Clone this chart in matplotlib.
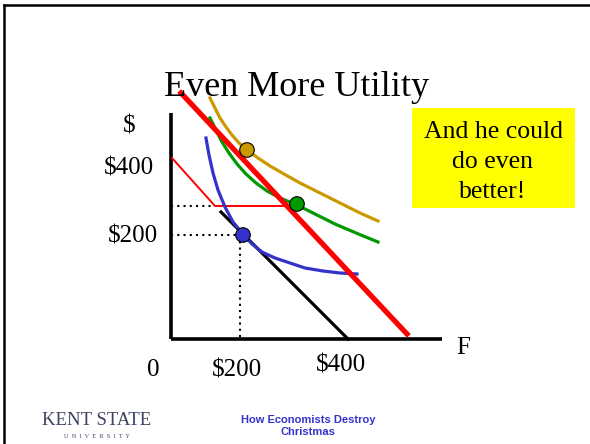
import matplotlib
matplotlib.use("Agg")
import matplotlib.pyplot as plt
from matplotlib.patches import Rectangle

# chart units: origin at the axis corner, x = F, y = $
budget_old = ([50, 177], [127, 0])            # black budget line
budget_new = ([10, 236], [246, 5])            # thick red budget line
kinked = ([1, 44, 125], [181, 133, 133])      # thin red kinked line

curve_blue_x = [35, 38, 42, 47, 54, 62, 72, 81, 91, 104, 119, 134, 152, 169, 186]
curve_blue_y = [201, 184, 166, 149, 132, 117, 105, 95, 87, 81, 76, 71, 68, 66, 65]
curve_green_x = [39, 45, 51, 58, 66, 75, 85, 96, 109, 126, 144, 164, 185, 207]
curve_green_y = [221, 209, 197, 186, 175, 165, 156, 148, 141, 134, 125, 115, 106, 97]
curve_gold_x = [39, 44, 49, 55, 61, 68, 76, 87, 99, 113, 129, 149, 169, 189, 207]
curve_gold_y = [241, 231, 221, 212, 204, 196, 189, 181, 173, 165, 156, 146, 136, 126, 118]

dots_x = [72, 126, 76]
dots_y = [104, 135, 189]
dot_colors = ["#3333cc", "#009900", "#cc9900"]

y_labels = ["$", "$400", "$200"]
y_label_pos = [(-42, 212), (-42, 171), (-38, 103)]
x_labels = ["0", "$200", "$400", "F"]
x_label_pos = [(-18, -31), (66, -31), (170, -26), (292, -9)]

serif = "Liberation Serif"
sans = "Liberation Sans"

fig = plt.figure(figsize=(5.9, 4.44), dpi=100)
ax = fig.add_axes([0, 0, 1, 1])
ax.set_xlim(-171, 419)
ax.set_ylim(-105, 339)
ax.axis("off")

# slide frame (top and left edges)
ax.plot([-167, 419], [334, 334], color="black", lw=1.8)
ax.plot([-167, -167], [-105, 334], color="black", lw=1.8)

ax.text(126, 252, "Even More Utility", ha="center", va="center",
        fontsize=26, family=serif)

# axes of the diagram
ax.plot([0, 0], [0, 226], color="black", lw=2.6, solid_capstyle="butt")
ax.plot([0, 271], [0, 0], color="black", lw=2.6, solid_capstyle="butt")

# dotted guides
ax.plot([0, 44], [133, 133], color="black", lw=1.5, ls=(0, (1, 2)))
ax.plot([0, 70], [104, 104], color="black", lw=1.5, ls=(0, (1, 2)))
ax.plot([69, 69], [104, 0], color="black", lw=1.5, ls=(0, (1, 2)))

ax.plot(*kinked, color="#ff0000", lw=1.4)
ax.plot(*budget_old, color="black", lw=2.3)
ax.plot(curve_blue_x, curve_blue_y, color="#3333cc", lw=2.3, solid_joinstyle="round")
ax.plot(curve_green_x, curve_green_y, color="#009900", lw=2.3, solid_joinstyle="round")
ax.plot(curve_gold_x, curve_gold_y, color="#cc9900", lw=2.3, solid_joinstyle="round")
ax.plot(*budget_new, color="#ff0000", lw=3.8)

ax.scatter(dots_x, dots_y, s=110, c=dot_colors, edgecolors="black",
           linewidths=0.8, zorder=5)

for lab, (x, y) in zip(y_labels, y_label_pos):
    ax.text(x, y, lab, ha="center", va="center", fontsize=18, family=serif)
for lab, (x, y) in zip(x_labels, x_label_pos):
    ax.text(x, y, lab, ha="center", va="center", fontsize=18, family=serif)

# yellow call-out
ax.add_patch(Rectangle((241, 131), 163, 100, facecolor="#ffff00",
                       edgecolor="none"))
ax.text(322, 177, "And he could\ndo even\nbetter!", ha="center", va="center",
        fontsize=18.5, family=serif, linespacing=1.5)

# footer
ax.text(137, -87, "How Economists Destroy\nChristmas", ha="center",
        va="center", fontsize=8, family=sans, weight="bold",
        color="#3333cc", linespacing=1.3)
ax.text(-74, -81, "KENT STATE", ha="center", va="center", fontsize=13.5,
        family=serif, color="#3c4262")
ax.text(-74, -97, "U  N  I  V  E  R  S  I  T  Y", ha="center", va="center",
        fontsize=4.5, family=serif, color="#3c4262")

fig.savefig("out.png", dpi=100)
